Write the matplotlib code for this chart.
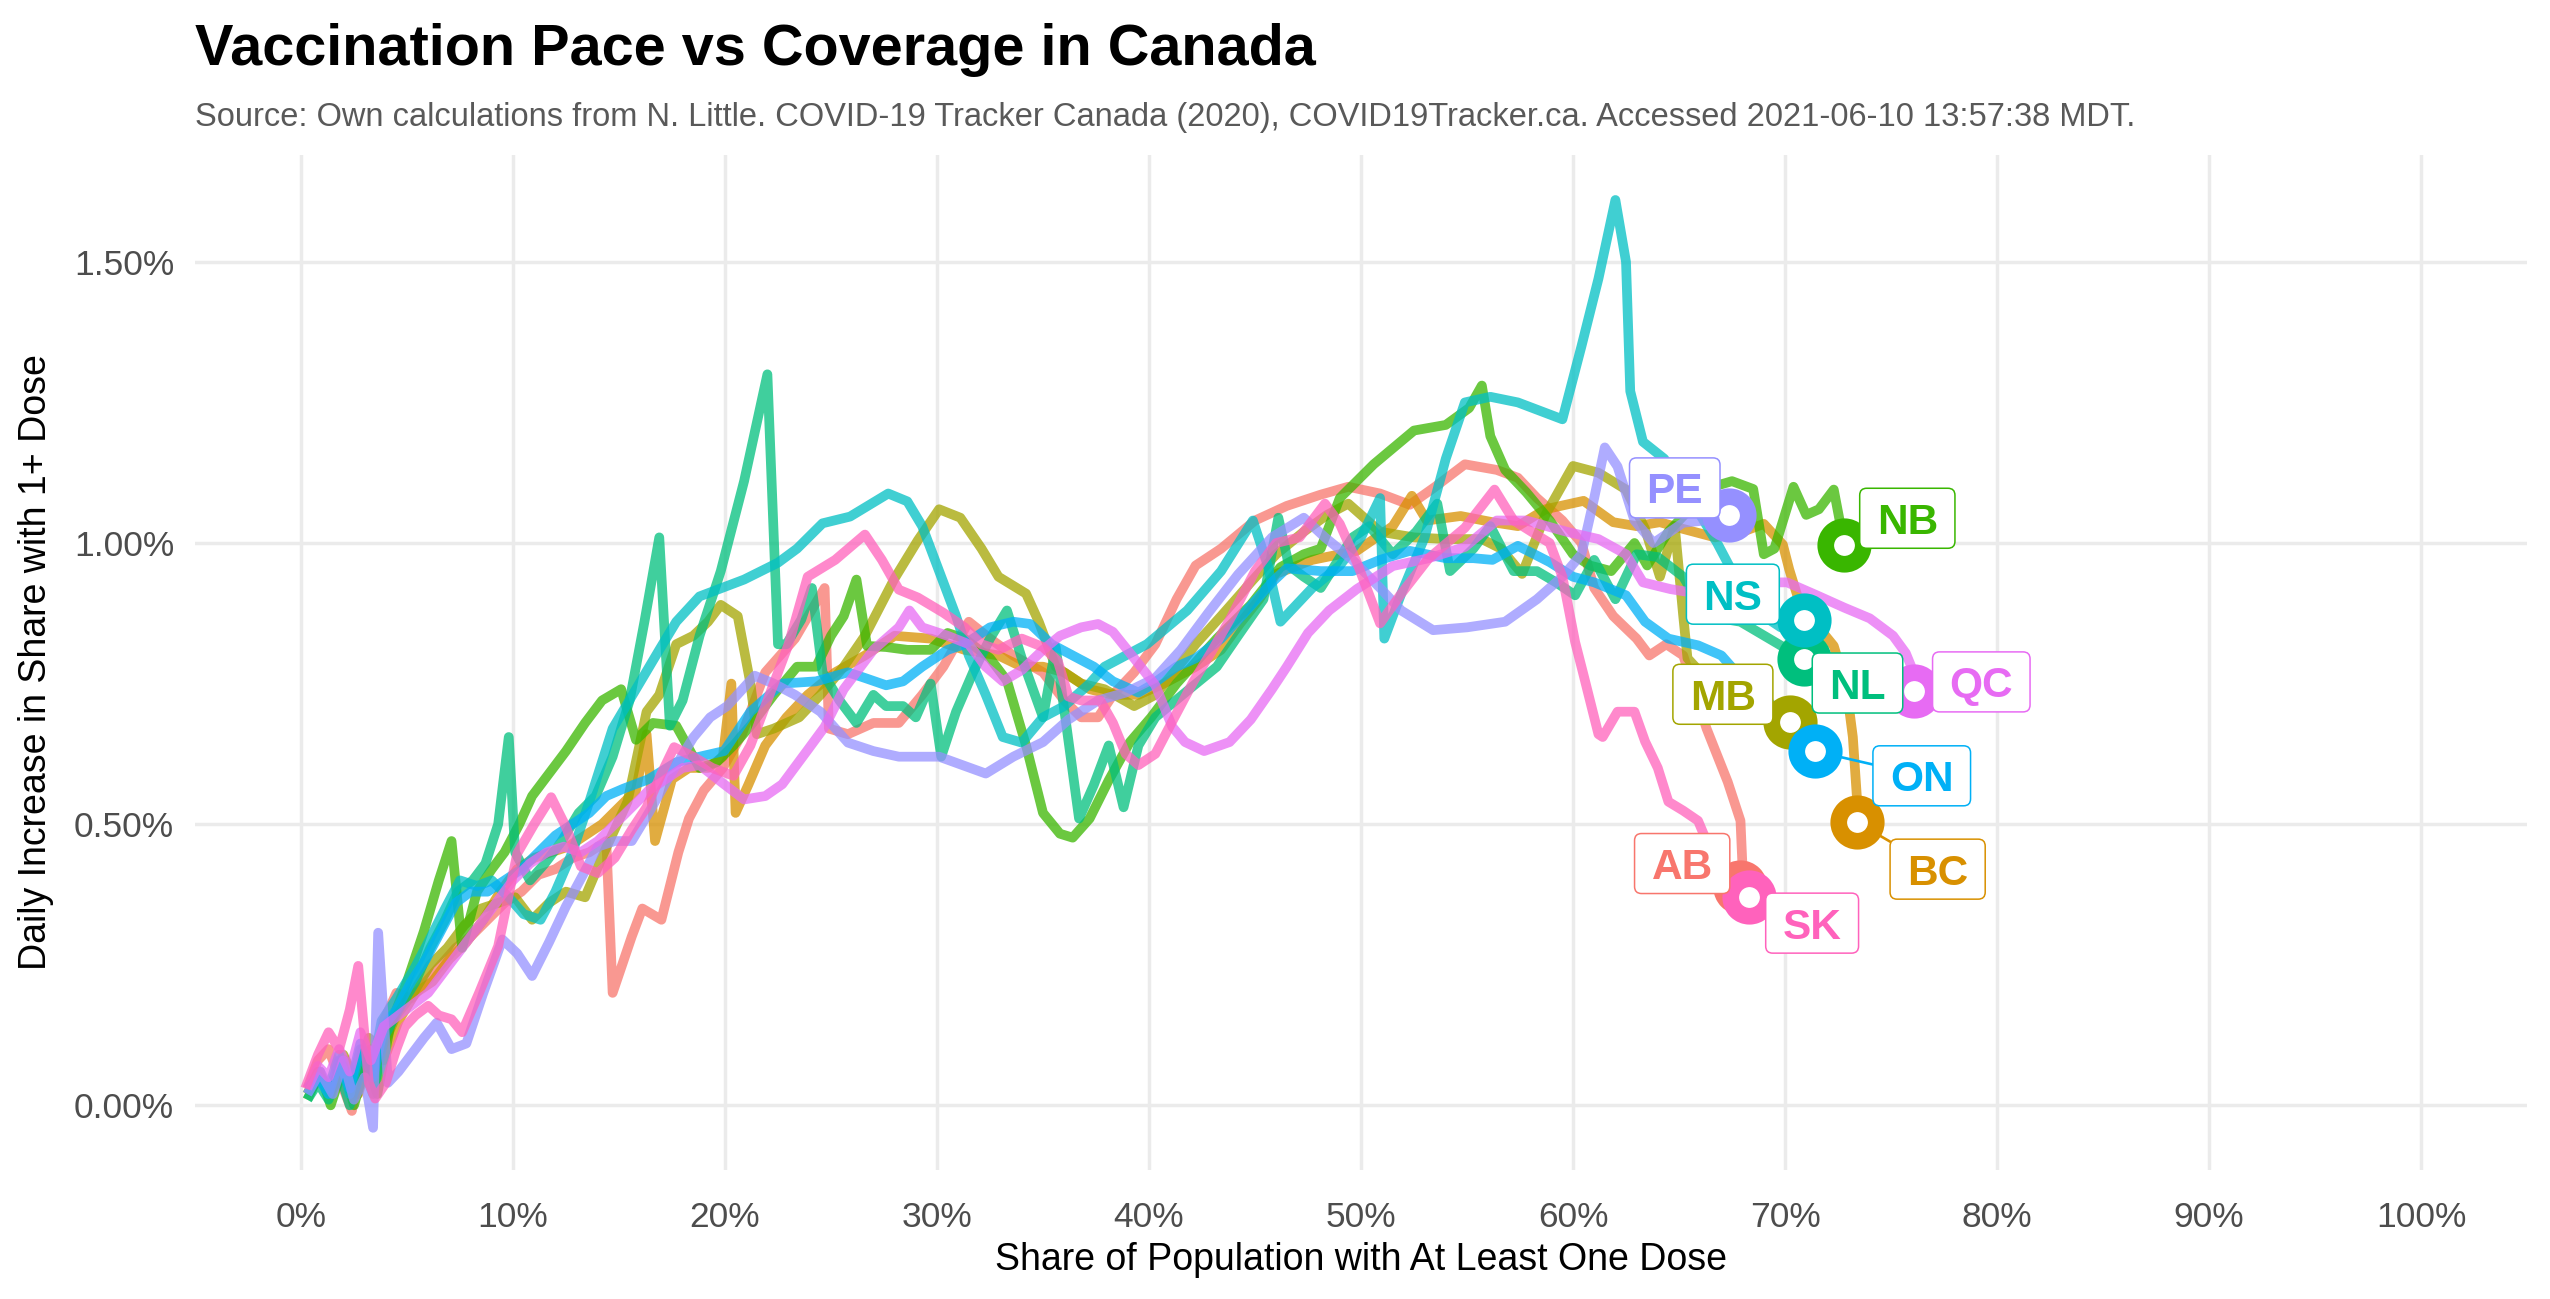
import matplotlib
matplotlib.use('Agg')
import matplotlib.pyplot as plt
import matplotlib.patches as mpatches
from matplotlib.transforms import IdentityTransform
from matplotlib.ticker import FuncFormatter, FixedLocator

plt.rcParams['font.family'] = ['Liberation Sans', 'DejaVu Sans']

# ---------------- data (x = share with >=1 dose, %, y = daily increase, %) ----------------
provinces = ['AB', 'BC', 'MB', 'NB', 'NL', 'NS', 'ON', 'PE', 'QC', 'SK']
colors = ['#F8766D', '#D89000', '#A3A500', '#39B600', '#00BF7D',
          '#00BFC4', '#00B0F6', '#9590FF', '#E76BF3', '#FF62BC']

ab_x = [0.3, 0.8, 1.3, 1.8, 2.4, 2.9, 3.4, 3.9, 4.5, 5.2, 5.9, 6.6, 7.3, 8.0, 8.8, 9.6, 10.4, 11.2, 12.0, 12.8,
        13.6, 14.4, 14.7, 15.6, 16.1, 17.0, 17.8, 18.3, 19.0, 19.9, 20.8, 21.9, 23.3, 24.7, 24.9, 25.8, 27.0, 28.2,
        29.3, 30.3, 31.5, 32.5, 33.6, 35.0, 36.0, 36.8, 37.6, 38.3, 39.3, 40.3, 41.3, 42.2, 43.4, 45.0, 46.5, 48.1,
        49.4, 50.9, 52.3, 53.5, 54.9, 56.4, 57.4, 58.3, 59.5, 60.4, 61.0, 61.9, 63.0, 63.6, 64.4, 65.2, 66.3, 67.3,
        67.9, 68.0, 67.9]
ab_y = [0.03, 0.08, 0.10, 0.05, -0.01, 0.10, 0.05, 0.15, 0.20, 0.19, 0.22, 0.25, 0.28, 0.30, 0.33, 0.36, 0.38, 0.41,
        0.42, 0.44, 0.45, 0.47, 0.20, 0.30, 0.35, 0.33, 0.45, 0.51, 0.56, 0.60, 0.66, 0.77, 0.83, 0.92, 0.67, 0.66,
        0.68, 0.68, 0.73, 0.78, 0.86, 0.83, 0.80, 0.77, 0.72, 0.69, 0.69, 0.73, 0.77, 0.82, 0.90, 0.96, 0.99, 1.04,
        1.066, 1.086, 1.10, 1.088, 1.068, 1.10, 1.14, 1.13, 1.116, 1.08, 1.04, 1.00, 0.92, 0.87, 0.83, 0.80, 0.82,
        0.80, 0.67, 0.575, 0.506, 0.42, 0.388]

bc_x = [0.3, 0.9, 1.5, 2.1, 2.7, 3.3, 3.9, 4.6, 5.4, 6.2, 7.0, 7.8, 8.6, 9.4, 10.2, 11.0, 11.8, 12.6, 13.4, 14.2,
        15.0, 15.8, 16.3, 16.7, 17.5, 18.3, 19.2, 19.9, 20.3, 20.5, 21.1, 21.9, 22.9, 23.9, 25.2, 26.6, 28.0, 29.7,
        31.3, 32.9, 34.0, 35.0, 36.0, 37.2, 38.3, 39.5, 40.7, 42.2, 43.4, 44.3, 45.2, 46.0, 47.7, 49.8, 51.5, 52.4,
        53.1, 54.7, 56.2, 57.4, 58.7, 60.5, 61.9, 63.0, 64.1, 65.2, 66.7, 68.0, 69.0, 69.9, 70.2, 70.6, 71.5, 72.3,
        72.9, 73.2, 73.4, 73.4]
bc_y = [0.02, 0.05, 0.03, 0.08, 0.02, 0.10, 0.08, 0.15, 0.20, 0.22, 0.26, 0.29, 0.33, 0.38, 0.42, 0.44, 0.45, 0.46,
        0.48, 0.50, 0.53, 0.56, 0.66, 0.47, 0.58, 0.60, 0.60, 0.62, 0.75, 0.52, 0.57, 0.64, 0.69, 0.73, 0.77, 0.80,
        0.835, 0.83, 0.81, 0.80, 0.78, 0.78, 0.77, 0.74, 0.73, 0.73, 0.75, 0.78, 0.81, 0.857, 0.90, 0.945, 0.97,
        0.986, 1.03, 1.084, 1.04, 1.048, 1.037, 1.03, 1.06, 1.075, 1.037, 1.03, 1.037, 1.025, 1.01, 1.02, 1.034,
        0.997, 0.953, 0.904, 0.854, 0.817, 0.742, 0.655, 0.543, 0.503]

mb_x = [0.3, 0.8, 1.4, 2.0, 2.6, 3.2, 3.8, 4.5, 5.3, 6.1, 6.9, 7.7, 8.5, 9.3, 10.1, 10.9, 11.7, 12.5, 13.4, 14.3,
        15.4, 16.3, 16.9, 17.7, 18.5, 19.2, 19.8, 20.6, 21.2, 21.5, 22.3, 23.5, 24.5, 25.6, 26.6, 28.0, 29.1, 30.1,
        31.1, 32.1, 32.9, 34.2, 34.8, 35.6, 36.8, 37.9, 39.3, 40.3, 41.3, 42.2, 43.4, 44.8, 46.0, 47.3, 48.4, 49.4,
        50.9, 52.5, 54.0, 55.7, 56.6, 57.6, 58.7, 60.0, 61.2, 62.5, 63.4, 64.1, 64.8, 65.2, 65.4, 66.5, 68.0, 69.5,
        70.24]
mb_y = [0.02, 0.06, 0.02, 0.09, 0.04, 0.12, 0.10, 0.16, 0.20, 0.25, 0.28, 0.32, 0.35, 0.36, 0.37, 0.33, 0.36, 0.38,
        0.37, 0.45, 0.54, 0.70, 0.73, 0.82, 0.835, 0.86, 0.89, 0.87, 0.75, 0.66, 0.67, 0.69, 0.73, 0.78, 0.835, 0.937,
        1.005, 1.06, 1.045, 0.99, 0.94, 0.91, 0.86, 0.78, 0.75, 0.74, 0.71, 0.73, 0.776, 0.82, 0.87, 0.93, 0.98, 1.02,
        1.05, 1.07, 1.02, 1.01, 1.007, 1.007, 0.99, 0.945, 1.05, 1.137, 1.125, 1.095, 1.025, 0.94, 1.03, 0.87, 0.795,
        0.75, 0.72, 0.69, 0.681]

nb_x = [0.3, 0.9, 1.4, 2.0, 2.5, 3.1, 3.6, 4.2, 5.0, 5.8, 6.5, 7.1, 7.6, 8.3, 9.0, 9.6, 10.3, 10.9, 11.7, 12.5,
        13.4, 14.2, 15.1, 15.8, 16.6, 17.7, 18.8, 19.6, 20.4, 21.2, 22.3, 23.4, 24.3, 25.0, 25.6, 26.2, 26.7, 27.6,
        28.6, 29.7, 30.5, 31.3, 32.5, 33.3, 34.2, 35.0, 35.8, 36.4, 37.2, 38.1, 39.1, 40.1, 41.3, 43.2, 44.8, 46.2,
        47.3, 48.1, 49.0, 50.6, 52.5, 54.0, 55.1, 55.7, 56.1, 56.8, 57.8, 58.9, 60.0, 60.8, 61.8, 62.9, 63.5, 64.5,
        65.5, 66.6, 67.5, 68.5, 69.0, 69.5, 70.4, 71.0, 71.6, 72.3, 72.8]
nb_y = [0.01, 0.06, 0.00, 0.07, 0.00, 0.08, 0.02, 0.14, 0.22, 0.31, 0.40, 0.47, 0.28, 0.38, 0.42, 0.45, 0.50, 0.55,
        0.59, 0.63, 0.68, 0.72, 0.74, 0.65, 0.68, 0.675, 0.60, 0.61, 0.64, 0.675, 0.73, 0.78, 0.78, 0.835, 0.87, 0.935,
        0.817, 0.815, 0.81, 0.81, 0.84, 0.83, 0.795, 0.755, 0.64, 0.52, 0.483, 0.476, 0.51, 0.578, 0.646, 0.69, 0.75,
        0.83, 0.89, 0.957, 0.98, 0.99, 1.08, 1.14, 1.20, 1.21, 1.24, 1.28, 1.19, 1.13, 1.09, 1.04, 0.98, 0.96, 0.95,
        1.00, 0.96, 1.02, 1.06, 1.10, 1.11, 1.096, 0.98, 0.99, 1.10, 1.05, 1.06, 1.095, 0.996]

nl_x = [0.3, 0.8, 1.3, 1.8, 2.3, 2.9, 3.4, 3.9, 4.6, 5.4, 6.1, 6.8, 7.4, 8.1, 8.7, 9.3, 9.8, 10.1, 10.8, 11.5,
        12.3, 13.1, 13.9, 14.7, 15.5, 16.2, 16.9, 17.4, 18.0, 18.8, 19.8, 20.9, 22.0, 22.5, 22.9, 23.6, 24.1, 24.6,
        25.4, 26.2, 27.0, 27.6, 28.4, 29.0, 29.7, 30.2, 30.9, 31.7, 32.5, 33.3, 34.0, 35.0, 35.6, 36.7, 37.4, 38.1,
        38.8, 39.5, 40.3, 41.9, 43.2, 44.2, 45.4, 46.1, 46.6, 47.3, 48.1, 49.6, 50.4, 51.5, 52.6, 53.6, 54.2, 55.3,
        56.1, 57.2, 58.3, 59.2, 60.1, 61.0, 62.0, 63.0, 64.0, 65.2, 66.3, 67.9, 68.8, 69.7, 70.9]
nl_y = [0.01, 0.04, 0.01, 0.06, 0.00, 0.07, 0.02, 0.12, 0.17, 0.22, 0.28, 0.33, 0.38, 0.40, 0.43, 0.50, 0.655, 0.45,
        0.40, 0.43, 0.47, 0.52, 0.55, 0.62, 0.72, 0.86, 1.01, 0.675, 0.72, 0.835, 0.95, 1.11, 1.30, 0.82, 0.82, 0.864,
        0.92, 0.77, 0.72, 0.68, 0.73, 0.71, 0.71, 0.69, 0.75, 0.62, 0.70, 0.77, 0.83, 0.88, 0.795, 0.69, 0.815, 0.51,
        0.57, 0.64, 0.53, 0.64, 0.69, 0.74, 0.78, 0.835, 0.90, 1.045, 0.96, 0.94, 0.92, 1.01, 1.03, 0.98, 1.02, 1.07,
        0.95, 0.99, 1.03, 0.95, 0.95, 0.93, 0.907, 0.97, 0.90, 0.98, 0.975, 0.94, 0.87, 0.86, 0.84, 0.82, 0.793]

ns_x = [0.3, 0.8, 1.3, 1.8, 2.3, 2.8, 3.3, 3.8, 4.5, 5.3, 6.0, 6.8, 7.5, 8.3, 9.0, 9.8, 10.5, 11.3, 12.0, 12.8,
        13.6, 14.7, 15.8, 16.9, 17.7, 18.8, 20.9, 22.5, 23.4, 24.6, 25.9, 27.7, 28.6, 29.3, 30.1, 30.9, 31.5, 32.3,
        33.1, 34.0, 35.0, 36.0, 37.2, 37.9, 39.9, 41.8, 43.4, 44.9, 45.6, 46.2, 47.7, 49.0, 50.0, 50.9, 51.1, 51.9,
        53.0, 54.0, 54.9, 56.1, 57.4, 59.5, 60.4, 61.2, 62.0, 62.5, 62.7, 63.3, 64.3, 65.2, 66.0, 66.8, 67.5, 68.3,
        69.0, 69.8, 70.4, 70.9]
ns_y = [0.02, 0.05, 0.03, 0.09, 0.02, 0.10, 0.05, 0.15, 0.19, 0.24, 0.29, 0.35, 0.40, 0.39, 0.40, 0.37, 0.34, 0.33,
        0.38, 0.45, 0.54, 0.67, 0.74, 0.81, 0.86, 0.905, 0.935, 0.965, 0.99, 1.035, 1.047, 1.088, 1.074, 1.03, 0.95,
        0.87, 0.80, 0.73, 0.655, 0.645, 0.69, 0.71, 0.75, 0.78, 0.82, 0.88, 0.95, 1.04, 0.96, 0.86, 0.92, 0.96, 1.01,
        1.08, 0.83, 0.91, 1.01, 1.15, 1.25, 1.26, 1.25, 1.22, 1.35, 1.47, 1.61, 1.50, 1.27, 1.18, 1.15, 1.10, 1.05,
        1.00, 0.95, 0.90, 0.87, 0.85, 0.855, 0.863]

on_x = [0.3, 0.8, 1.3, 1.8, 2.3, 2.8, 3.4, 3.9, 4.5, 5.2, 5.9, 6.6, 7.3, 8.0, 8.8, 9.6, 10.4, 11.2, 12.0, 12.8,
        13.6, 14.4, 15.2, 16.4, 17.7, 18.8, 19.96, 21.2, 22.7, 24.3, 25.8, 26.6, 27.6, 28.4, 29.3, 30.5, 31.3, 32.5,
        33.6, 34.4, 35.4, 36.4, 37.4, 38.3, 39.5, 40.1, 41.3, 42.2, 43.4, 44.6, 45.8, 46.5, 48.1, 49.6, 50.9, 52.3,
        54.0, 55.3, 56.2, 57.4, 58.9, 60.0, 61.0, 62.5, 63.4, 64.5, 65.9, 67.0, 67.7, 68.8, 69.5, 70.5, 71.4]
on_y = [0.03, 0.05, 0.02, 0.08, 0.03, 0.11, 0.05, 0.14, 0.17, 0.22, 0.26, 0.31, 0.36, 0.38, 0.38, 0.40, 0.42, 0.45,
        0.48, 0.50, 0.52, 0.55, 0.563, 0.58, 0.61, 0.62, 0.63, 0.70, 0.75, 0.754, 0.77, 0.76, 0.747, 0.754, 0.78,
        0.81, 0.82, 0.85, 0.86, 0.856, 0.82, 0.80, 0.78, 0.754, 0.734, 0.747, 0.78, 0.795, 0.83, 0.88, 0.93, 0.955,
        0.95, 0.95, 0.97, 0.986, 0.973, 0.973, 0.97, 0.995, 0.966, 0.94, 0.93, 0.907, 0.86, 0.83, 0.818, 0.80, 0.77,
        0.736, 0.706, 0.665, 0.63]

pe_x = [0.3, 0.9, 1.5, 2.0, 2.5, 3.0, 3.4, 3.64, 4.1, 4.6, 5.2, 5.8, 6.4, 7.1, 7.8, 8.6, 9.5, 10.2, 10.9, 11.7,
        12.5, 13.3, 14.0, 14.8, 15.6, 16.4, 17.3, 18.5, 19.3, 20.1, 21.4, 22.3, 23.3, 24.5, 25.8, 27.0, 28.2, 30.1,
        31.2, 32.3, 33.6, 35.0, 36.2, 37.6, 38.9, 40.3, 41.5, 42.8, 44.2, 45.8, 47.3, 48.3, 49.6, 50.9, 51.9, 53.4,
        55.0, 56.8, 58.3, 59.5, 60.4, 61.0, 61.5, 62.1, 62.9, 63.8, 65.2, 66.2, 67.37]
pe_y = [0.02, 0.06, 0.02, 0.08, 0.01, 0.05, -0.04, 0.307, 0.04, 0.06, 0.09, 0.12, 0.147, 0.10, 0.11, 0.20, 0.295,
        0.27, 0.23, 0.29, 0.354, 0.41, 0.46, 0.47, 0.47, 0.52, 0.58, 0.654, 0.69, 0.71, 0.764, 0.75, 0.73, 0.70,
        0.645, 0.63, 0.62, 0.62, 0.605, 0.59, 0.62, 0.646, 0.686, 0.72, 0.734, 0.76, 0.81, 0.876, 0.944, 1.01, 1.045,
        1.01, 0.97, 0.92, 0.88, 0.845, 0.85, 0.86, 0.90, 0.94, 0.98, 1.08, 1.17, 1.136, 1.04, 1.00, 1.036, 1.04, 1.05]

qc_x = [0.3, 0.8, 1.3, 1.8, 2.3, 2.8, 3.3, 3.9, 4.6, 5.3, 6.0, 6.8, 7.6, 8.4, 9.2, 10.0, 10.8, 11.6, 12.4, 13.2,
        14.0, 14.8, 15.6, 16.4, 17.2, 18.0, 18.8, 19.96, 20.9, 21.9, 22.7, 23.9, 24.7, 25.6, 27.0, 28.2, 28.7, 29.3,
        30.5, 31.5, 32.3, 33.1, 34.0, 35.0, 35.8, 36.8, 37.6, 38.3, 39.3, 40.3, 41.1, 41.7, 42.6, 43.8, 44.8, 45.8,
        46.5, 47.5, 48.5, 49.8, 51.5, 53.2, 54.9, 56.4, 57.8, 59.7, 61.2, 62.5, 63.3, 64.6, 65.9, 67.5, 69.0, 70.1,
        71.5, 72.8, 74.0, 75.1, 75.7, 76.1, 76.1]
qc_y = [0.03, 0.07, 0.05, 0.10, 0.06, 0.13, 0.08, 0.14, 0.16, 0.18, 0.20, 0.24, 0.28, 0.32, 0.36, 0.40, 0.43, 0.45,
        0.46, 0.45, 0.47, 0.50, 0.53, 0.56, 0.58, 0.60, 0.605, 0.571, 0.544, 0.55, 0.571, 0.632, 0.673, 0.74, 0.81,
        0.85, 0.88, 0.85, 0.835, 0.82, 0.78, 0.754, 0.774, 0.81, 0.835, 0.85, 0.856, 0.842, 0.795, 0.747, 0.673,
        0.646, 0.63, 0.646, 0.686, 0.74, 0.78, 0.84, 0.88, 0.918, 0.959, 0.973, 0.993, 1.04, 1.04, 1.02, 1.007, 0.98,
        0.93, 0.918, 0.91, 0.92, 0.93, 0.93, 0.907, 0.885, 0.866, 0.835, 0.804, 0.767, 0.736]

sk_x = [0.2, 0.8, 1.3, 1.8, 2.3, 2.7, 3.2, 3.5, 4.0, 4.5, 4.9, 5.4, 6.0, 6.5, 7.1, 7.6, 8.4, 9.3, 10.2, 11.0,
        11.8, 12.5, 13.2, 14.0, 14.8, 15.6, 16.3, 17.0, 17.6, 18.5, 19.4, 20.4, 21.2, 22.0, 23.0, 23.9, 25.2, 26.6,
        27.4, 28.2, 29.1, 30.3, 31.3, 32.1, 32.9, 34.0, 35.0, 35.7, 36.2, 36.8, 37.7, 38.3, 38.9, 39.5, 40.3, 41.2,
        42.1, 43.0, 43.9, 45.0, 46.0, 47.1, 48.3, 49.0, 49.8, 50.9, 51.9, 53.2, 54.9, 56.3, 57.2, 58.3, 58.9, 59.5,
        60.1, 60.5, 61.2, 61.4, 62.1, 62.9, 63.4, 64.0, 64.5, 65.2, 65.9, 66.3, 66.9, 67.5, 68.3]
sk_y = [0.03, 0.09, 0.13, 0.10, 0.17, 0.248, 0.04, 0.012, 0.04, 0.10, 0.14, 0.16, 0.177, 0.16, 0.153, 0.13, 0.20,
        0.283, 0.448, 0.50, 0.548, 0.495, 0.425, 0.413, 0.44, 0.49, 0.53, 0.59, 0.637, 0.62, 0.60, 0.586, 0.64, 0.72,
        0.82, 0.94, 0.97, 1.015, 0.97, 0.917, 0.903, 0.876, 0.85, 0.82, 0.81, 0.83, 0.815, 0.79, 0.727, 0.72, 0.72,
        0.68, 0.625, 0.605, 0.625, 0.69, 0.754, 0.81, 0.87, 0.95, 1.00, 1.01, 1.07, 1.034, 0.966, 0.857, 0.91, 0.973,
        1.027, 1.095, 1.04, 1.014, 1.00, 0.94, 0.824, 0.765, 0.66, 0.655, 0.70, 0.70, 0.647, 0.60, 0.54, 0.524, 0.506,
        0.47, 0.44, 0.41, 0.371]

# label (repel) positions, data units
label_x = [65.15, 77.2, 67.07, 75.77, 73.42, 67.54, 76.45, 64.8, 79.26, 71.28]
label_y = [0.43, 0.42, 0.731, 1.044, 0.751, 0.909, 0.586, 1.098, 0.753, 0.324]

xticks = [0, 10, 20, 30, 40, 50, 60, 70, 80, 90, 100]
yticks = [0.0, 0.5, 1.0, 1.5]

series_x = [ab_x, bc_x, mb_x, nb_x, nl_x, ns_x, on_x, pe_x, qc_x, sk_x]
series_y = [ab_y, bc_y, mb_y, nb_y, nl_y, ns_y, on_y, pe_y, qc_y, sk_y]

# ---------------- figure ----------------
W, H = 2550, 1299
DPI = 100
fig = plt.figure(figsize=(W / DPI, H / DPI), dpi=DPI)
ax = fig.add_axes([195 / W, 1 - 1170 / H, (2527 - 195) / W, (1170 - 155) / H])
ax.set_xlim(-5, 105)
ax.set_ylim(-0.115, 1.69)

for s in ax.spines.values():
    s.set_visible(False)
ax.xaxis.set_major_locator(FixedLocator(xticks))
ax.yaxis.set_major_locator(FixedLocator(yticks))
ax.xaxis.set_major_formatter(FuncFormatter(lambda v, p: f"{v:.0f}%"))
ax.yaxis.set_major_formatter(FuncFormatter(lambda v, p: f"{v:.2f}%"))
ax.grid(True, color='#EBEBEB', linewidth=2.5)
ax.set_axisbelow(True)
ax.tick_params(axis='both', length=0, labelsize=25.5, labelcolor='#4D4D4D')
ax.tick_params(axis='x', pad=22)
ax.tick_params(axis='y', pad=15)

# lines
for xs, ys, c in zip(series_x, series_y, colors):
    ax.plot(xs, ys, color=c, alpha=0.75, linewidth=7.0, solid_joinstyle='round',
            solid_capstyle='butt', zorder=2)

# segments from end point towards label
for xs, ys, lx, ly, c in zip(series_x, series_y, label_x, label_y, colors):
    ax.plot([xs[-1], lx], [ys[-1], ly], color=c, linewidth=1.9, zorder=3)

# label boxes
fig.canvas.draw()
renderer = fig.canvas.get_renderer()
box_h = 60
pad_x = 17
cap_h = 31
for name, lx, ly, c in zip(provinces, label_x, label_y, colors):
    px, py = ax.transData.transform((lx, ly))
    t = fig.text(px, py - cap_h / 2, name, transform=IdentityTransform(), ha='center', va='baseline',
                 fontsize=30.5, fontweight='bold', color=c, zorder=6)
    ext = t.get_window_extent(renderer)
    bw = ext.width + 2 * pad_x
    box = mpatches.FancyBboxPatch((px - bw / 2, py - box_h / 2), bw, box_h,
                                  boxstyle="round,pad=0,rounding_size=7",
                                  transform=IdentityTransform(), facecolor='white', edgecolor=c,
                                  linewidth=1.1, zorder=5)
    fig.add_artist(box)

# end points (rings) drawn on top
for xs, ys, c in zip(series_x, series_y, colors):
    l, = ax.plot([xs[-1]], [ys[-1]], marker='o', markersize=27, markerfacecolor='white',
                 markeredgecolor=c, markeredgewidth=12, linestyle='none', zorder=7)
    l.set_clip_on(False)

# texts
fig.text(195 / W, 1 - 65 / H, "Vaccination Pace vs Coverage in Canada", fontsize=41.5,
         fontweight='bold', color='black', ha='left', va='baseline')
fig.text(195 / W, 1 - 126 / H,
         "Source: Own calculations from N. Little. COVID-19 Tracker Canada (2020), COVID19Tracker.ca. "
         "Accessed 2021-06-10 13:57:38 MDT.",
         fontsize=23.5, color='#595959', ha='left', va='baseline')
fig.text((195 + 2527) / 2 / W, 1 - 1260 / H, "Share of Population with At Least One Dose",
         fontsize=27, color='black', ha='center', va='center')
fig.text(36 / W, 1 - 662 / H, "Daily Increase in Share with 1+ Dose",
         fontsize=27, color='black', ha='center', va='center', rotation=90)

fig.savefig('out.png', dpi=DPI, facecolor='white')
